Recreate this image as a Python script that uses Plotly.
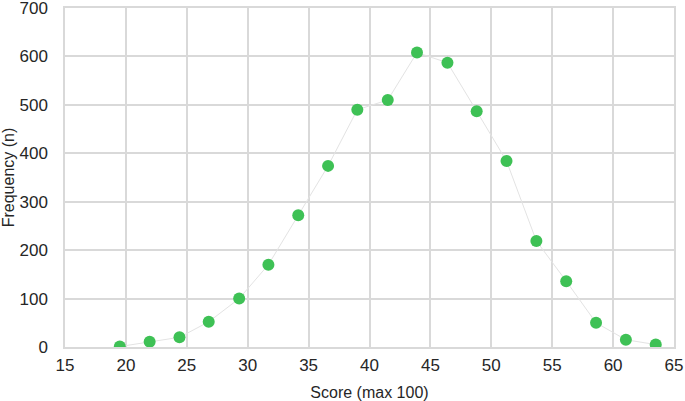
import plotly.graph_objects as go

# score bins and counts
score = [19.5, 21.95, 24.4, 26.8, 29.3, 31.7, 34.15, 36.6, 39.0, 41.5,
         43.9, 46.4, 48.8, 51.25, 53.7, 56.15, 58.6, 61.05, 63.5]
freq = [1, 11, 20, 52, 100, 170, 272, 374, 490, 510,
        608, 587, 487, 384, 219, 136, 50, 15, 5]

x_ticks = [15, 20, 25, 30, 35, 40, 45, 50, 55, 60, 65]
y_ticks = [0, 100, 200, 300, 400, 500, 600, 700]

fig = go.Figure()
fig.add_trace(go.Scatter(
    x=score, y=freq, mode="lines+markers",
    line=dict(color="#e3e3e3", width=1),
    marker=dict(color="#3ec155", size=12),
    showlegend=False,
))

fig.update_layout(
    width=685, height=401,
    margin=dict(l=65, r=11, t=8, b=54),
    plot_bgcolor="white", paper_bgcolor="white",
    font=dict(family="Liberation Sans, Arial", size=17, color="#262626"),
)
fig.update_xaxes(
    range=[15, 65], tickvals=x_ticks, showgrid=True,
    gridcolor="#d9d9d9", gridwidth=1.5, zeroline=False,
    showline=True, linecolor="#d9d9d9", linewidth=1.5, mirror=True,
    ticks="", ticklen=0, automargin=False, ticklabelstandoff=2,
    ticklabeloverflow="allow",
    title=dict(text="Score (max 100)", font=dict(size=16)),
)
fig.update_yaxes(
    range=[0, 700], tickvals=y_ticks, showgrid=True,
    gridcolor="#d9d9d9", gridwidth=1.5, zeroline=False,
    showline=True, linecolor="#d9d9d9", linewidth=1.5, mirror=True,
    ticks="", ticklen=0, automargin=False, ticklabelstandoff=12,
    ticklabeloverflow="allow",
    title=dict(text="Frequency (n)", font=dict(size=16)),
)

# page body has a default 8px margin; drop it so the figure sits at 0,0
fig.write_html("out.html", config={"displayModeBar": False},
               post_script="document.body.style.margin='0';")
